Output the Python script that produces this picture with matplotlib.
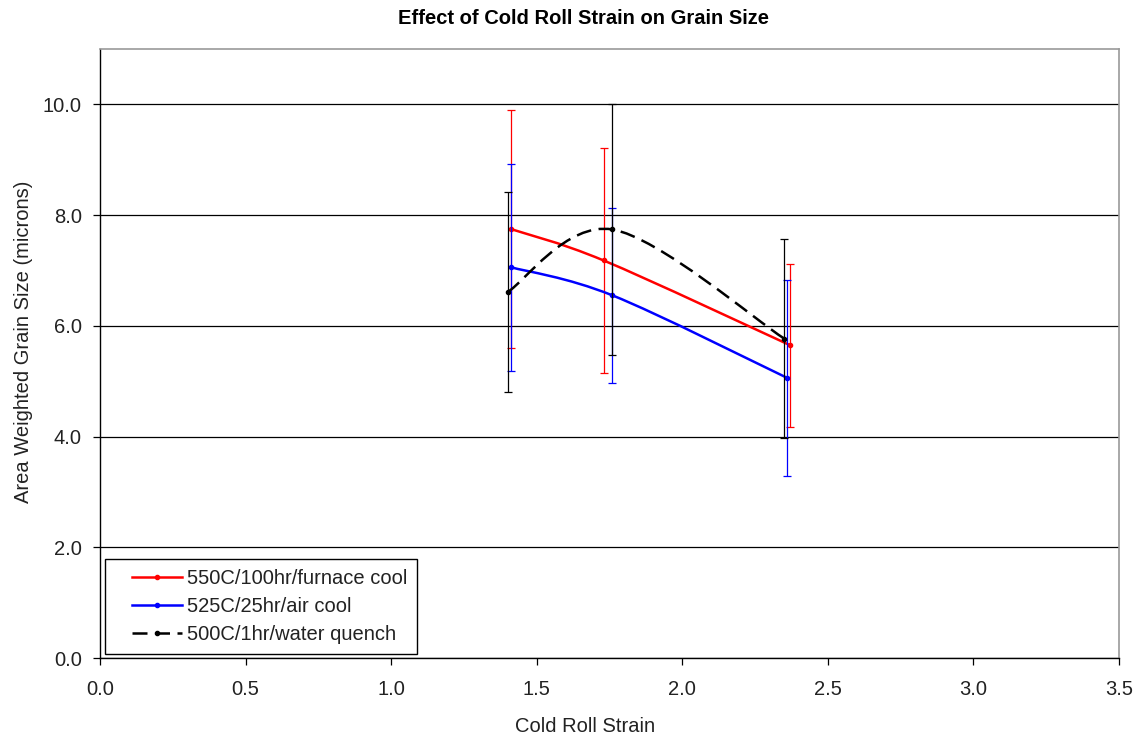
import matplotlib
matplotlib.use("Agg")
import matplotlib.pyplot as plt
import numpy as np
from matplotlib.path import Path
from matplotlib.patches import PathPatch
from matplotlib.lines import Line2D
from matplotlib.legend_handler import HandlerLine2D

plt.rcParams['font.family'] = ['Liberation Sans', 'DejaVu Sans']

# grain size vs cold roll strain, three heat treatments
red_x = [1.41, 1.73, 2.37]
red_y = [7.75, 7.18, 5.65]
red_err = [2.15, 2.03, 1.47]

blue_x = [1.41, 1.76, 2.36]
blue_y = [7.06, 6.55, 5.06]
blue_err = [1.87, 1.58, 1.77]

black_x = [1.40, 1.76, 2.35]
black_y = [6.61, 7.74, 5.77]
black_err = [1.81, 2.26, 1.80]

labels = ["550C/100hr/furnace cool", "525C/25hr/air cool", "500C/1hr/water quench"]
colors = ["#ff0000", "#0000ff", "#000000"]
styles = ["-", "-", (0, (6, 3))]

series = [(red_x, red_y, red_err), (blue_x, blue_y, blue_err), (black_x, black_y, black_err)]


def smooth_path(x, y):
    # cubic bezier through the points, catmull-rom style control points
    p = np.column_stack([x, y])
    n = len(p)
    verts = [p[0]]
    codes = [Path.MOVETO]
    for i in range(n - 1):
        p_prev = p[i - 1] if i > 0 else p[i]
        p_next = p[i + 2] if i + 2 < n else p[i + 1]
        c1 = p[i] + (p[i + 1] - p_prev) / 6
        c2 = p[i + 1] - (p_next - p[i]) / 6
        verts += [c1, c2, p[i + 1]]
        codes += [Path.CURVE4] * 3
    return Path(verts, codes)


class IndentedLine(HandlerLine2D):
    # legend sample line pushed right, leaving a blank gap before it
    def get_xdata(self, legend, xdescent, ydescent, width, height, fontsize):
        start = -xdescent + width - 2.45 * fontsize
        end = -xdescent + width
        return [start, end], [0.5 * (start + end)]


fig = plt.figure(figsize=(11.38, 7.40), dpi=100)
ax = fig.add_axes([100 / 1138, 82 / 740, 1019 / 1138, 609 / 740])

handles = []
for i, (x, y, err) in enumerate(series):
    z = 3 + i
    ax.add_patch(PathPatch(smooth_path(x, y), facecolor='none', edgecolor=colors[i],
                           linewidth=1.8, linestyle=styles[i], zorder=z))
    ax.errorbar(x, y, yerr=err, fmt='o', color=colors[i], markersize=3,
                elinewidth=0.9, capsize=3, capthick=0.9, zorder=z)
    handles.append(Line2D([], [], color=colors[i], linewidth=1.8, linestyle=styles[i],
                          marker='o', markersize=3))

ax.set_xlim(0, 3.5)
ax.set_ylim(0, 11)
ax.set_xticks(np.arange(0, 3.51, 0.5))
ax.set_yticks(np.arange(0, 10.1, 2))
ax.xaxis.set_major_formatter(matplotlib.ticker.FormatStrFormatter('%.1f'))
ax.yaxis.set_major_formatter(matplotlib.ticker.FormatStrFormatter('%.1f'))
ax.tick_params(direction='out', length=5, width=0.9, labelsize=14.5, colors='black', pad=8)
ax.tick_params(axis='x', pad=11)
ax.tick_params(labelcolor='#222222')

ax.yaxis.grid(True, color='black', linewidth=0.9)
ax.set_axisbelow(True)

for side in ['left', 'bottom']:
    ax.spines[side].set_color('black')
    ax.spines[side].set_linewidth(1.0)
for side in ['top', 'right']:
    ax.spines[side].set_color('#999999')
    ax.spines[side].set_linewidth(1.2)

ax.set_ylabel("Area Weighted Grain Size (microns)", fontsize=14.5, color='#222222')
ax.yaxis.set_label_coords(-0.066, 0.52)

fig.text(585 / 1138, 1 - 727 / 740, "Cold Roll Strain", fontsize=14.5, color='#222222',
         ha='center', va='center')
fig.text(583 / 1138, 1 - 19 / 740, "Effect of Cold Roll Strain on Grain Size",
         fontsize=14.5, fontweight='bold', ha='center', va='center')

leg = ax.legend(handles, labels, loc='lower left', bbox_to_anchor=(5 / 1019, 4 / 609),
                borderaxespad=0, fontsize=14.5, frameon=True, fancybox=False,
                edgecolor='black', framealpha=1, handlelength=3.3, handletextpad=0.25,
                labelspacing=0.45, borderpad=0.5,
                handler_map={Line2D: IndentedLine()})
leg.get_frame().set_linewidth(1.0)
for t in leg.get_texts():
    t.set_color('#222222')

plt.savefig("out.png", dpi=100)
